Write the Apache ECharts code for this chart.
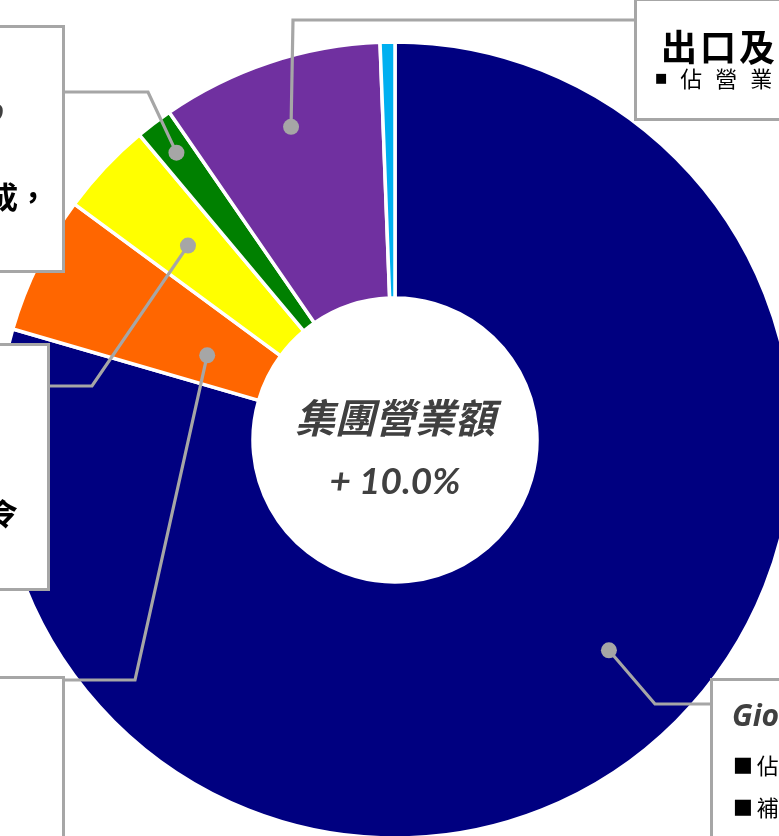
<!DOCTYPE html>
<html><head><meta charset="utf-8">
<script src="https://cdn.jsdelivr.net/npm/echarts@6/dist/echarts.min.js"></script>
<style>html,body{margin:0;padding:0;background:#fff;overflow:hidden}#c{width:779px;height:836px}</style>
</head><body><div id="c"></div>
<script>
// ---- data ----
const categories = ['Giordano', 'Giordano Ladies', 'BSX', 'Giordano Junior', '出口及批發', '其他'];
const shares = [79.5, 5.6, 3.8, 1.5, 9.0, 0.6];
const colors = ['#000080', '#FF6600', '#FFFF00', '#008000', '#7030A0', '#00B0F0'];
const centerTitle = '集團營業額';
const centerValue = '+ 10.0%';

// ---- layout ----
const CX = 395, CY = 440, R_IN = 142, R_OUT = 398;
const CJK = '"Noto Sans CJK TC", "Noto Sans CJK SC", sans-serif';
const LAT = 'Lato, "Open Sans", sans-serif';
const OPS = '"Open Sans", Lato, sans-serif';
const GREY = '#A6A6A6';
const STYLES = {
  ttl:   { fontFamily: OPS, fontSize: 30, fontWeight: 'bold', fontStyle: 'italic', color: '#404040' },
  big30: { fontFamily: CJK, fontSize: 30, fontWeight: 'bold', color: '#000' },
  big36: { fontFamily: CJK, fontSize: 36, fontWeight: 'bold', color: '#000' },
  txt:   { fontFamily: CJK, fontSize: 22, color: '#000' },
  bulS:  { fontFamily: '"DejaVu Sans", sans-serif', fontSize: 13, color: '#000' },
  bulL:  { fontFamily: '"DejaVu Sans", sans-serif', fontSize: 21, color: '#000' }
};
// leader: anchor inside slice (fraction of slice angle, radius), elbow, end; box: label position
const leaders = [
  { frac: 0.47, r: 300, elbow: [655, 704], end: [713, 704],
    box: { x: 713, y: 681, align: 'left', pad: [6, 0, 60, 0], lines: [
      { lh: 60, toks: [{ s: 'ttl', t: 'Giordano', pl: 19 }] },
      { lh: 38, toks: [{ s: 'bulL', t: '■', pl: 20, pr: 4 }, { s: 'txt', t: '佔營業額79.5%', sp: 12 }] },
      { lh: 46, toks: [{ s: 'bulL', t: '■', pl: 20, pr: 4 }, { s: 'txt', t: '補貨周期縮短', sp: 12 }] }
    ] } },
  { frac: 0.4, r: 206, elbow: [135, 680], end: [62, 680],
    box: { x: 62, y: 679, align: 'right', pad: [30, 0, 100, 0], lines: [
      { lh: 40, toks: [{ s: 'ttl', t: 'Giordano Ladies', pr: 90 }] },
      { lh: 40, toks: [{ s: 'bulS', t: '■', pr: 12 }, { s: 'txt', t: '佔營業額 5.6%', pr: 90 }] }
    ] } },
  { frac: 0.5, r: 284, elbow: [92, 386], end: [47, 386],
    box: { x: 47, y: 346, align: 'right', pad: [30, 0, 56, 0], lines: [
      { lh: 40, toks: [{ s: 'ttl', t: 'BSX', pr: 75 }] },
      { lh: 80, toks: [{ s: 'bulS', t: '■', pr: 12 }, { s: 'txt', t: '佔營業額 3.8%', pr: 80 }] },
      { lh: 36, toks: [{ s: 'big30', t: '貨品更切合時令', pr: 29 }] }
    ] } },
  { frac: 0.5, r: 361, elbow: [148, 92], end: [62, 92],
    box: { x: 62, y: 28, align: 'right', pad: [64, 0, 12, 0], lines: [
      { lh: 40, toks: [{ s: 'ttl', t: 'Giordano', pr: 58 }] },
      { lh: 46, toks: [{ s: 'bulS', t: '■', pr: 12 }, { s: 'txt', t: '佔營業額 1.5%', pr: 80 }] },
      { lh: 38, toks: [{ s: 'big30', t: '業務重組完成，', pr: 14 }] },
      { lh: 42, toks: [{ s: 'big30', t: '店舖網絡優化', pr: 75 }] }
    ] } },
  { frac: 0.5, r: 330, elbow: [293, 20], end: [637, 20],
    box: { x: 637, y: 1, align: 'left', pad: [28, 0, 25, 0], lines: [
      { lh: 36, toks: [{ s: 'big36', t: '出口及批發', pl: 24, sp: 3 }] },
      { lh: 28, toks: [{ s: 'bulS', t: '■', pl: 18, pr: 13 }, { s: 'txt', t: '佔營業額9.0%', sp: 13 }] }
    ] } },
  null
];

const total = shares.reduce((a, b) => a + b, 0);
const cum = []; let acc = 0; shares.forEach(v => { cum.push(acc); acc += v; });
function anchorAngle(i) { return (cum[i] + leaders[i].frac * shares[i]) / total * 360; }
function anchorXY(i) {
  const a = anchorAngle(i) * Math.PI / 180, r = leaders[i].r;
  return [CX + r * Math.sin(a), CY - r * Math.cos(a)];
}
function buildLabel(box) {
  const rich = {}; const rows = [];
  box.lines.forEach((line, li) => {
    let row = ''; let k = 0;
    line.toks.forEach((tok) => {
      const pieces = tok.sp ? Array.from(tok.t) : [tok.t];
      pieces.forEach((piece, pi) => {
        const key = 'r' + li + '_' + (k++);
        const first = pi === 0, last = pi === pieces.length - 1;
        rich[key] = Object.assign({}, STYLES[tok.s], {
          lineHeight: line.lh,
          padding: [0, last ? (tok.pr || 0) : (tok.sp || 0), 0, first ? (tok.pl || 0) : 0],
          align: box.align
        });
        row += '{' + key + '|' + piece + '}';
      });
    });
    rows.push(row);
  });
  return { show: true, position: 'outside', formatter: rows.join('\n'), rich: rich, width: 300,
    padding: box.pad, backgroundColor: '#fff', borderColor: GREY, borderWidth: 3, overflow: 'none' };
}

const pieData = categories.map((name, i) => {
  const item = { name: name, value: shares[i], itemStyle: { color: colors[i] } };
  item.label = leaders[i] ? buildLabel(leaders[i].box) : { show: false };
  return item;
});
const dotData = [];
const leaderGraphics = [];
leaders.forEach((l, i) => {
  if (!l) return;
  dotData.push([l.r, anchorAngle(i)]);
  leaderGraphics.push({ type: 'polyline', z: 5, silent: true,
    shape: { points: [anchorXY(i), l.elbow, l.end] },
    style: { stroke: GREY, lineWidth: 3.2, fill: null, lineJoin: 'miter' } });
});

const chart = echarts.init(document.getElementById('c'));
chart.setOption({
  animation: false,
  polar: { center: [CX, CY], radius: R_OUT },
  radiusAxis: { show: false, min: 0, max: R_OUT },
  angleAxis: { show: false, min: 0, max: 360, startAngle: 90, clockwise: true },
  graphic: leaderGraphics.concat([
    { type: 'text', x: CX, y: 418, z: 20, style: { text: centerTitle, fill: '#404040',
      font: 'italic bold 40px ' + CJK, align: 'center', verticalAlign: 'middle' } },
    { type: 'text', x: CX, y: 482, z: 20, style: { text: centerValue, fill: '#404040',
      font: 'italic bold 37px ' + LAT, align: 'center', verticalAlign: 'middle' } }
  ]),
  series: [
    {
      type: 'pie', center: [CX, CY], radius: [R_IN, R_OUT], startAngle: 90, clockwise: true,
      avoidLabelOverlap: false, silent: true, emphasis: { disabled: true }, z: 2,
      itemStyle: { borderColor: '#fff', borderWidth: 3.5 },
      label: { position: 'outside' },
      labelLine: { show: false },
      labelLayout: function (p) {
        const l = leaders[p.dataIndex];
        if (!l) return {};
        return { x: l.box.x, y: l.box.y, align: l.box.align, verticalAlign: 'top' };
      },
      data: pieData
    },
    {
      type: 'scatter', coordinateSystem: 'polar', symbol: 'circle', symbolSize: 16, z: 10, silent: true,
      itemStyle: { color: GREY, opacity: 1 }, data: dotData
    }
  ]
});
</script></body></html>
